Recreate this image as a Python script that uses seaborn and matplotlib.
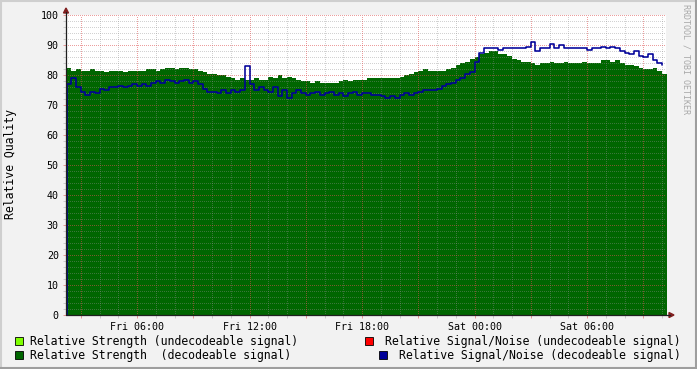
import numpy as np
import pandas as pd
import matplotlib
matplotlib.use("Agg")
import matplotlib.pyplot as plt
import seaborn as sns
from matplotlib.ticker import MultipleLocator, FixedLocator, FixedFormatter
from matplotlib.patches import Rectangle, Polygon
from matplotlib.lines import Line2D

# ---------------- data ----------------
start_hour = 2.25          # hours after Fri 00:00 of first sample
step_hours = 0.25          # sample spacing (15 min)

strength_decodeable = [
    82.5, 81.5, 82, 81.5, 81.5, 82, 81.5, 81.5, 81, 81.5, 81.5, 81.5, 81, 81.5, 81.5, 81.5,
    81.5, 82, 82, 81.5, 82, 82.5, 82.5, 82, 82.5, 82.5, 82, 82,
    81.5, 81, 80.5, 80.5, 80, 80, 79.5,
    79, 78.5, 79, 78.5, 78.5, 79, 78.5, 78.5,
    79.5, 79, 80, 79, 79.5, 79, 78.5,
    78, 78, 77.5, 78,
    77.5, 77.5, 77.5, 77.5, 78,
    78.5, 78, 78.5, 78.5, 78.5,
    79, 79, 79, 79, 79, 79, 79, 79.5,
    80, 80.5, 81,
    81.5, 82, 81.5, 81.5, 81.5, 81.5,
    82, 82.5,
    83.5,
    84, 84.5,
    85.5, 86,
    87, 87.5, 88, 88,
    87, 87, 86.5,
    85.5, 85, 84.5, 84.5,
    84, 83.5, 84,
    84, 84.5, 84, 84, 84.5, 84, 84, 84, 84.5, 84, 84, 84,
    85, 85, 84.5, 85,
    84, 83.5, 83.5, 83,
    82.5, 82, 82, 82.5,
    81.5, 80.5,
]

sn_decodeable = [
    77, 79,
    76, 74.5, 73.5, 74.5, 74,
    75.5, 75, 76,
    76, 76.5, 76, 76.5, 77, 76.5, 77, 76.5,
    77.5, 78, 77.5, 78.5, 78, 77.5, 78, 78.5, 77.5, 78, 77,
    75.5, 74.5, 74.5, 74, 75, 74, 75, 74.5, 75, 83,
    77, 75, 76, 75, 74.5,
    76, 73, 75, 72.5, 74, 75,
    74, 73.5, 74, 74.5, 73.5, 74, 74.5, 73.5, 74, 73, 74, 74.5, 73.5, 74, 74,
    73.5, 73.5,
    73, 72.5, 73, 72.5, 73.5,
    74, 73.5, 74,
    74.5, 75, 75, 75, 75.5,
    76.5, 77, 77.5,
    78.5, 79,
    80.5, 81,
    84.5,
    87.5, 89,
    89, 89, 88.5, 89, 89, 89, 89, 89, 89.5, 91, 88, 89, 89, 90.5, 89, 90, 89, 89, 89, 89, 89, 88.5, 89, 89,
    89.5, 89, 89.5, 89,
    88, 87.5, 87, 88,
    86.5, 86, 87,
    85, 84, 83.5,
]

x_tick_hours = [6, 12, 18, 24, 30]
x_tick_labels = ["Fri 06:00", "Fri 12:00", "Fri 18:00", "Sat 00:00", "Sat 06:00"]
y_label = "Relative Quality"
legend_labels = [
    "Relative Strength (undecodeable signal)",
    "Relative Strength  (decodeable signal)",
    "Relative Signal/Noise (undecodeable signal)",
    "Relative Signal/Noise (decodeable signal)",
]
legend_colors = ["#7fff00", "#006600", "#ff0000", "#000099"]
watermark = "RRDTOOL / TOBI OETIKER"

df = pd.DataFrame({"strength": strength_decodeable, "sn": sn_decodeable})
df["hour"] = start_hour + step_hours * np.arange(len(df))

# ---------------- style ----------------
sns.set_theme(style="white")
plt.rcParams["font.family"] = ["DejaVu Sans Mono"]

BG = "#f2f2f2"
GRID = (0.56, 0.56, 0.56, 0.4)
MGRID = (0.87, 0.31, 0.31, 0.55)
ARROW = (0.5, 0.12, 0.12)
AXIS = "#1f1f1f"

W, H = 697, 369
fig = plt.figure(figsize=(W / 100, H / 100), dpi=100, facecolor=BG)

def fx(px):
    return px / W

def fy(py):
    return 1 - py / H

ax = fig.add_axes([fx(66), fy(315), 600 / W, 300 / H])
ax.set_facecolor("white")
t0 = 2.213
t1 = t0 + 32
ax.set_xlim(t0, t1)
ax.set_ylim(0, 100)

# area (step) for decodeable strength
xs = np.append(df["hour"].values, df["hour"].values[-1] + step_hours)
ys = np.append(df["strength"].values, df["strength"].values[-1])
ax.fill_between(xs, 0, ys, step="post", color="#006600", linewidth=0, zorder=1)

# signal/noise line, starting from the baseline
line_df = pd.concat([pd.DataFrame({"hour": [df["hour"].iloc[0]], "sn": [0.0]}),
                     df[["hour", "sn"]]], ignore_index=True)
sns.lineplot(data=line_df, x="hour", y="sn", ax=ax, color="#000099",
             linewidth=1.15, drawstyle="steps-post", zorder=3, sort=False,
             estimator=None)

# ticks
ax.yaxis.set_major_locator(MultipleLocator(10))
ax.yaxis.set_minor_locator(MultipleLocator(2))
major_x = np.arange(3, 34, 3)
lab_map = dict(zip(x_tick_hours, x_tick_labels))
ax.xaxis.set_major_locator(FixedLocator(major_x))
ax.xaxis.set_major_formatter(FixedFormatter([lab_map.get(int(h), "") for h in major_x]))
ax.xaxis.set_minor_locator(MultipleLocator(1))
ax.grid(False)

# dotted grid drawn on top of the data
dots = (0, (1, 2))
minor_y = [v for v in np.arange(2, 100, 2) if v % 10 != 0]
major_y = list(np.arange(10, 101, 10))
minor_x = [h for h in np.arange(3, 35, 1) if h % 3 != 0]
ax.hlines(minor_y, t0, t1, colors=[GRID], linewidths=0.72, linestyles=[dots],
          zorder=2.5, antialiased=False)
ax.vlines(minor_x, 0, 100, colors=[GRID], linewidths=0.72, linestyles=[dots],
          zorder=2.5, antialiased=False)
ax.hlines(major_y, t0, t1, colors=[MGRID], linewidths=0.72, linestyles=[dots],
          zorder=2.6, antialiased=False)
ax.vlines(major_x, 0, 100, colors=[MGRID], linewidths=0.72, linestyles=[dots],
          zorder=2.6, antialiased=False)

for s in ax.spines.values():
    s.set_visible(False)

ax.tick_params(axis="both", which="major", length=2.2, width=0.72, color=MGRID,
               labelsize=7.2, labelcolor="black", pad=3, direction="out",
               left=True, bottom=True)
ax.tick_params(axis="both", which="minor", length=2.2, width=0.72, color=GRID,
               direction="out", left=True, bottom=True)
ax.set_xlabel("")
ax.set_ylabel("")

# axis lines with arrows
fig.add_artist(Line2D([fx(66), fx(66)], [fy(315), fy(12)], color=AXIS, lw=0.9))
fig.add_artist(Line2D([fx(66), fx(670)], [fy(315), fy(315)], color=AXIS, lw=0.9))
fig.add_artist(Polygon([[fx(63.5), fy(13)], [fx(68.5), fy(13)], [fx(66), fy(8)]],
                       closed=True, color=ARROW))
fig.add_artist(Polygon([[fx(669), fy(312.5)], [fx(669), fy(317.5)], [fx(674), fy(315)]],
                       closed=True, color=ARROW))

# frame shading
fig.add_artist(Line2D([0, 1], [fy(0.5), fy(0.5)], color="#cfcfcf", lw=1.5))
fig.add_artist(Line2D([fx(0.5), fx(0.5)], [0, 1], color="#cfcfcf", lw=1.5))
fig.add_artist(Line2D([0, 1], [fy(368), fy(368)], color="#9e9e9e", lw=1.5))
fig.add_artist(Line2D([fx(696), fx(696)], [0, 1], color="#9e9e9e", lw=1.5))

# y label
fig.text(fx(11), fy(164.5), y_label, rotation=90, ha="center", va="center",
         fontsize=8.3, color="black")

# watermark
fig.text(fx(686), fy(4), watermark, rotation=270, ha="center", va="top",
         fontsize=6, color="#a8a8a8")

# legend
legend_pos = [  # (box_left_px, row_y_px, text_x_px, ha)
    (15, 341, 30, "left"),
    (15, 355, 30, "left"),
    (365, 341, 681, "right"),
    (379, 355, 681, "right"),
]
for (bx, ry, tx, ha), lab, col in zip(legend_pos, legend_labels, legend_colors):
    fig.add_artist(Rectangle((fx(bx), fy(ry + 4)), 8 / W, 8 / H, facecolor=col,
                             edgecolor="black", linewidth=0.6))
    fig.text(fx(tx), fy(ry), lab, ha=ha, va="center", fontsize=8.3, color="black")

fig.savefig("out.png", dpi=100, facecolor=BG)
